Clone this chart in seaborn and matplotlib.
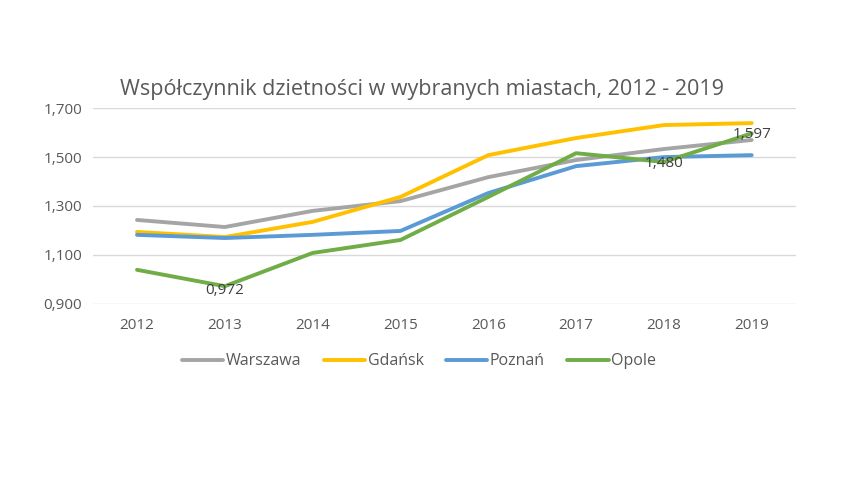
import matplotlib
matplotlib.use("Agg")
import matplotlib.pyplot as plt
import seaborn as sns
import pandas as pd

years = ["2012", "2013", "2014", "2015", "2016", "2017", "2018", "2019"]
warszawa = [1.243, 1.214, 1.280, 1.320, 1.418, 1.488, 1.533, 1.570]
gdansk = [1.194, 1.173, 1.235, 1.337, 1.508, 1.578, 1.631, 1.639]
poznan = [1.182, 1.169, 1.182, 1.198, 1.353, 1.463, 1.500, 1.508]
opole = [1.039, 0.972, 1.108, 1.161, 1.337, 1.516, 1.480, 1.597]
cities = ["Warszawa", "Gdańsk", "Poznań", "Opole"]
colors = ["#A5A5A5", "#FFC000", "#5B9BD5", "#70AD47"]
yticks = [0.9, 1.1, 1.3, 1.5, 1.7]

sns.set_theme(style="white")
plt.rcParams['font.family'] = ['Open Sans', 'DejaVu Sans']
txt = "#595959"

rows = []
for city, vals in zip(cities, [warszawa, gdansk, poznan, opole]):
    for i, (y, v) in enumerate(zip(years, vals)):
        rows.append({"idx": i, "year": y, "city": city, "value": v})
df = pd.DataFrame(rows)

fig = plt.figure(figsize=(8.62, 4.83), dpi=100)
ax = fig.add_axes([0.108, 0.371, 0.815, 0.405])
sns.lineplot(data=df, x="idx", y="value", hue="city", hue_order=cities,
             palette=colors, linewidth=2.8, ax=ax, legend=False)

ax.set_xlim(-0.5, len(years) - 0.5)
ax.set_ylim(0.9, 1.7)
ax.set_xticks(range(len(years)))
ax.set_xticklabels(years)
ax.set_yticks(yticks)
ax.set_yticklabels([f"{t:.3f}".replace(".", ",") for t in yticks])
ax.tick_params(axis="both", colors=txt, labelsize=11, length=0)
ax.tick_params(axis="x", pad=10)
ax.tick_params(axis="y", pad=8)
ax.yaxis.grid(True, color="#D9D9D9", linewidth=1)
ax.xaxis.grid(False)
for s in ax.spines.values():
    s.set_visible(False)
ax.set_xlabel("")
ax.set_ylabel("")

# data labels
lab = "#404040"
ax.annotate("0,972", (1, opole[1]), xytext=(0, 2), textcoords="offset points",
            ha="center", va="top", color=lab, fontsize=11)
ax.annotate("1,480", (6, opole[6]), xytext=(0, 4), textcoords="offset points",
            ha="center", va="top", color=lab, fontsize=11)
ax.annotate("1,597", (7, opole[7]), xytext=(0, -6), textcoords="offset points",
            ha="center", va="bottom", color=lab, fontsize=11)

fig.text(0.139, 0.815, "Współczynnik dzietności w wybranych miastach, 2012 - 2019",
         color=txt, fontsize=15.5, ha="left", va="center")

handles = [plt.Line2D([0], [0], color=c, linewidth=2.8) for c in colors]
fig.legend(handles, cities, loc="center", bbox_to_anchor=(0.486, 0.252), ncol=4,
           frameon=False, fontsize=11.5, labelcolor=txt, handlelength=2.6,
           handletextpad=0.15, columnspacing=1.4)

fig.savefig("out.png", dpi=100, facecolor="white")
